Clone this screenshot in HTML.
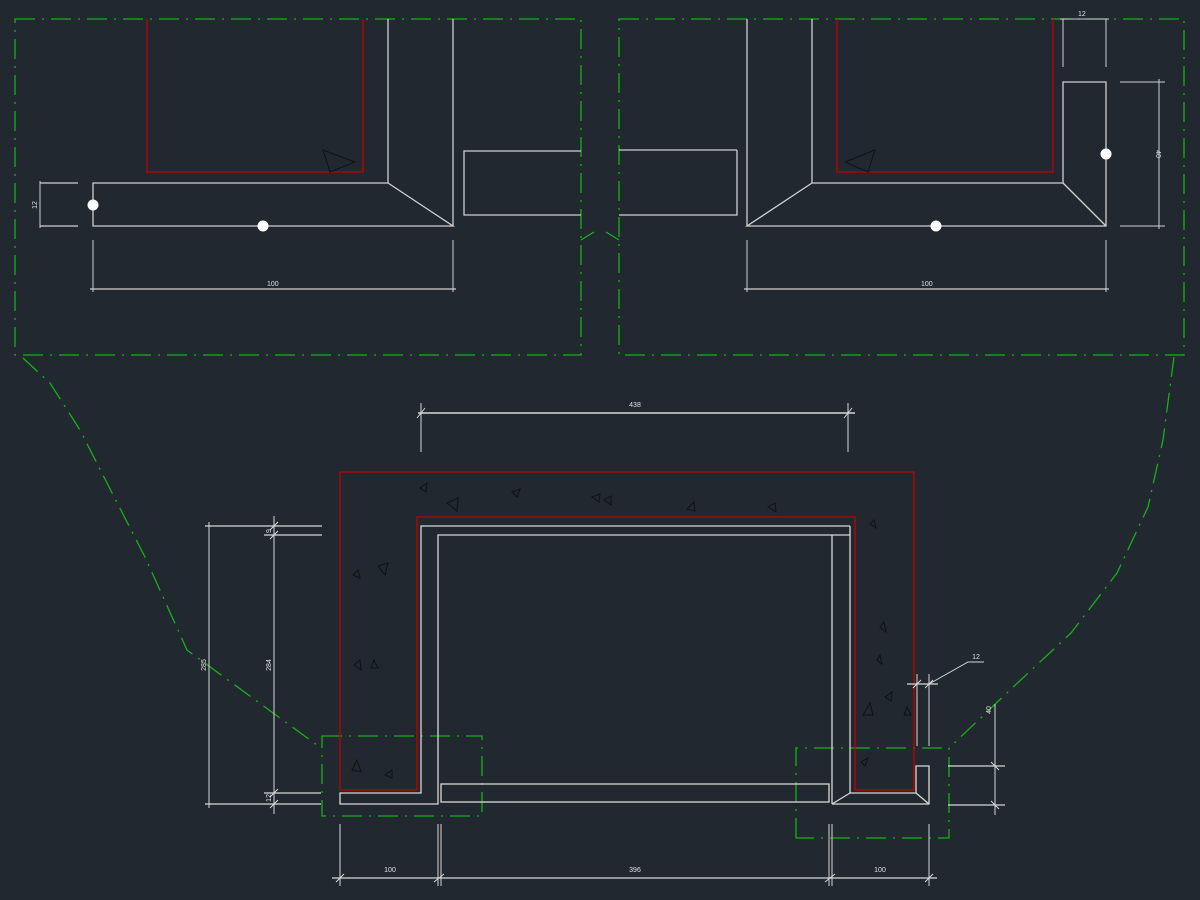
<!DOCTYPE html>
<html><head><meta charset="utf-8"><style>
html,body{margin:0;padding:0;background:#212830;}
svg{display:block}
text{font-family:"Liberation Sans",sans-serif;fill:#e0e0e0;font-size:7px}
</style></head><body>
<svg width="1200" height="900" viewBox="0 0 1200 900" xmlns="http://www.w3.org/2000/svg">
<rect width="1200" height="900" fill="#212830"/>
<g fill="none" stroke="#18b018" stroke-width="1.3" stroke-dasharray="20 7 2 7">
<rect x="15" y="19" width="566" height="336"/>
<rect x="619" y="19" width="565" height="336"/>
<polyline points="23,358 50,383 80,430 107,483 145,557 187,650 321,748"/>
<polyline points="1174,357 1163,440 1148,507 1117,573 1071,633 1010,690 949,748"/>
<rect x="322" y="736" width="160" height="80"/>
<polyline points="796,838 796,748 949,748 949,838 796,838"/>
<polyline points="581,240 594,232"/><polyline points="619,240 606,232"/>
</g>
<g fill="none" stroke="#cfcfcf" stroke-width="1.3">
<!-- top left detail -->
<line x1="388" y1="19" x2="388" y2="183"/>
<line x1="453" y1="19" x2="453" y2="226"/>
<polyline points="388,183 93,183 93,226 453,226 388,183"/>
<polyline points="581,151 464,151 464,215 581,215"/>
<line x1="40" y1="183" x2="78" y2="183"/><line x1="40" y1="226" x2="78" y2="226"/>
<line x1="40" y1="181" x2="40" y2="228" stroke-width="1"/>
<line x1="93" y1="240" x2="93" y2="292" stroke-width="1"/><line x1="453" y1="240" x2="453" y2="292" stroke-width="1"/>
<line x1="90" y1="289" x2="456" y2="289"/>
<!-- top right detail -->
<polyline points="737,150 619,150"/><polyline points="737,150 737,215 619,215"/>
<line x1="747" y1="19" x2="747" y2="226"/>
<line x1="812" y1="19" x2="812" y2="183"/>
<polyline points="812,183 1063,183 1063,82 1106,82 1106,226 747,226 812,183"/>
<line x1="1063" y1="183" x2="1106" y2="226"/>
<line x1="1063" y1="19" x2="1063" y2="67" stroke-width="1"/><line x1="1106" y1="19" x2="1106" y2="67" stroke-width="1"/>
<line x1="1060" y1="19" x2="1109" y2="19" stroke-width="1"/>
<line x1="1120" y1="82" x2="1165" y2="82" stroke-width="1"/><line x1="1120" y1="226" x2="1165" y2="226" stroke-width="1"/>
<line x1="1159" y1="79" x2="1159" y2="229" stroke-width="1"/>
<line x1="747" y1="240" x2="747" y2="292" stroke-width="1"/><line x1="1106" y1="240" x2="1106" y2="292" stroke-width="1"/>
<line x1="744" y1="289" x2="1109" y2="289"/>
</g>
<g fill="#fff"><circle cx="93" cy="205" r="5.5"/><circle cx="263" cy="226" r="5.5"/><circle cx="1106" cy="154" r="5.5"/><circle cx="936" cy="226" r="5.5"/></g>
<g fill="none" stroke="#c00000" stroke-width="1.3">
<polyline points="147,19 147,172 363,172 363,19"/>
<polyline points="837,19 837,172 1053,172 1053,19"/>
<polyline points="340,790 340,472 914,472 914,790 855,790 855,517 417,517 417,790 340,790"/>
</g>
<g fill="none" stroke="#111" stroke-width="1">
<polygon points="323,150 355,162 330,172"/><polygon points="845,162 875,150 868,172"/>
<polygon points="420,488 427,483 426,492"/><polygon points="447,503 458,498 457,511"/><polygon points="512,492 520,489 517,497"/>
<polygon points="592,497 600,494 599,502"/><polygon points="604,500 611,496 611,505"/><polygon points="687,509 694,502 695,511"/>
<polygon points="768,507 775,503 776,512"/><polygon points="870,524 874,520 876,528"/><polygon points="353,575 358,570 360,578"/>
<polygon points="378,566 388,563 385,575"/><polygon points="354,665 360,660 361,670"/><polygon points="371,668 374,660 378,668"/>
<polygon points="880,627 884,622 886,632"/><polygon points="863,715 870,703 873,715"/><polygon points="885,697 892,692 891,701"/>
<polygon points="904,715 907,707 911,715"/><polygon points="352,770 357,760 361,772"/><polygon points="385,775 392,770 392,778"/>
<polygon points="877,660 880,655 882,664"/><polygon points="861,762 868,758 865,766"/>
</g>
<g fill="none" stroke="#d8d8d8" stroke-width="1.3">
<!-- main walls -->
<polyline points="850,526 421,526 421,793 340,793 340,804 438,804 438,535 850,535"/>
<line x1="832" y1="535" x2="832" y2="804"/>
<polyline points="850,526 850,793 916,793 916,766 929,766 929,804 832,804"/>
<line x1="850" y1="793" x2="832" y2="804"/><line x1="916" y1="793" x2="929" y2="804"/>
<rect x="441" y="784" width="388" height="18"/>
<!-- dims -->
<line x1="418" y1="413" x2="855" y2="413" stroke-width="1.6"/>
<line x1="421" y1="403" x2="421" y2="452" stroke-width="1"/><line x1="848" y1="403" x2="848" y2="452" stroke-width="1"/>
<line x1="205" y1="526" x2="322" y2="526"/><line x1="264" y1="535" x2="322" y2="535"/>
<line x1="264" y1="793" x2="321" y2="793"/><line x1="205" y1="804" x2="321" y2="804"/>
<line x1="209" y1="522" x2="209" y2="808" stroke-width="1"/>
<line x1="274" y1="516" x2="274" y2="814" stroke-width="1"/>
<line x1="340" y1="824" x2="340" y2="886" stroke-width="1"/><line x1="438" y1="824" x2="438" y2="886" stroke-width="1"/>
<line x1="441" y1="824" x2="441" y2="886" stroke-width="1"/><line x1="829" y1="824" x2="829" y2="886" stroke-width="1"/>
<line x1="832" y1="824" x2="832" y2="886" stroke-width="1"/><line x1="929" y1="824" x2="929" y2="886" stroke-width="1"/>
<line x1="332" y1="878" x2="937" y2="878"/>
<line x1="917" y1="674" x2="917" y2="746" stroke-width="1"/><line x1="929" y1="674" x2="929" y2="746" stroke-width="1"/>
<line x1="907" y1="684" x2="938" y2="684"/>
<polyline points="929,684 968,662 984,662" stroke-width="1"/>
<line x1="948" y1="766" x2="1005" y2="766"/><line x1="948" y1="805" x2="1005" y2="805"/>
<line x1="995" y1="704" x2="995" y2="815" stroke-width="1"/>
</g>
<g stroke="#d8d8d8" stroke-width="1">
<line x1="417" y1="418" x2="425" y2="408"/><line x1="844" y1="418" x2="852" y2="408"/>
<line x1="270" y1="530" x2="278" y2="522"/><line x1="270" y1="539" x2="278" y2="531"/>
<line x1="270" y1="797" x2="278" y2="789"/><line x1="270" y1="808" x2="278" y2="800"/>
<line x1="336" y1="882" x2="344" y2="874"/><line x1="434" y1="882" x2="444" y2="874"/><line x1="825" y1="882" x2="835" y2="874"/><line x1="925" y1="882" x2="933" y2="874"/>
<line x1="913" y1="688" x2="921" y2="680"/><line x1="925" y1="688" x2="933" y2="680"/>
<line x1="991" y1="762" x2="999" y2="770"/><line x1="991" y1="801" x2="999" y2="809"/>
</g>
<text x="267" y="286">100</text><text x="921" y="286">100</text>
<text x="1078" y="16">12</text>
<text transform="translate(37,205) rotate(-90)" text-anchor="middle">12</text>
<text transform="translate(1156,154) rotate(90)" text-anchor="middle">40</text>
<text x="635" y="407" text-anchor="middle">438</text>
<text transform="translate(206,665) rotate(-90)" text-anchor="middle">285</text>
<text transform="translate(271,665) rotate(-90)" text-anchor="middle">284</text>
<text transform="translate(271,531) rotate(-90)" text-anchor="middle">9</text>
<text transform="translate(271,798) rotate(-90)" text-anchor="middle">12</text>
<text x="390" y="872" text-anchor="middle">100</text>
<text x="635" y="872" text-anchor="middle">396</text>
<text x="880" y="872" text-anchor="middle">100</text>
<text x="976" y="659" text-anchor="middle">12</text>
<text transform="translate(991,710) rotate(-90)" text-anchor="middle">40</text>
</svg>
</body></html>
